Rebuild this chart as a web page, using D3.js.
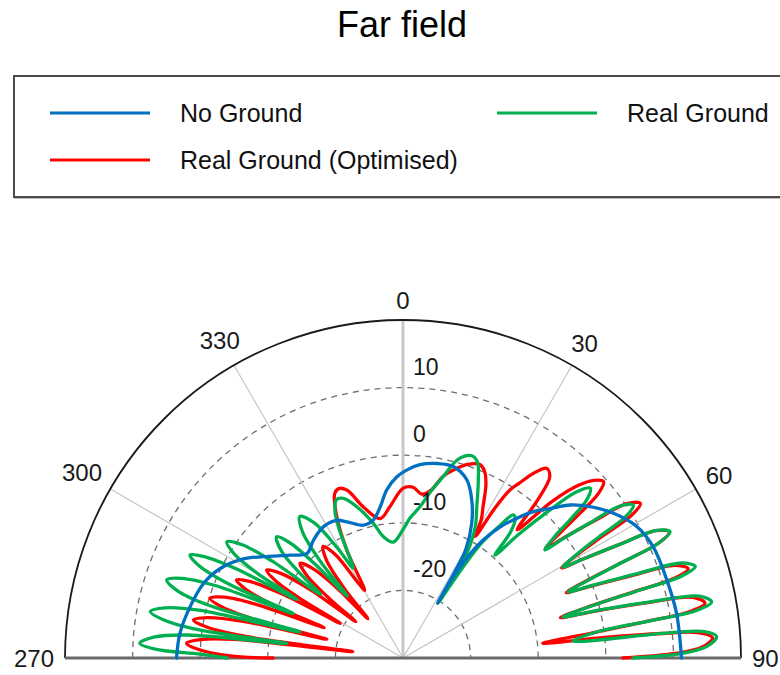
<!DOCTYPE html>
<html>
<head>
<meta charset="utf-8">
<script src="https://cdn.jsdelivr.net/npm/d3@7"></script>
<style>
  body { margin: 0; background: #fff; }
  svg { display: block; font-family: "Liberation Sans", Arial, sans-serif; }
</style>
</head>
<body>
<div id="chart"></div>
<script>
// chart values: [angle in degrees (0 = up, clockwise), gain in dB]
const chartTitle = "Far field";
const seriesNames = ["No Ground", "Real Ground", "Real Ground (Optimised)"];
const seriesColors = ["#0070c0", "#00b050", "#ff0000"];
const angleTicks = [270, 300, 330, 0, 30, 60, 90];
const spokeAngles = [-60, -30, 30, 60];
const dbTicks = [-20, -10, 0, 10];
const dbDomain = [-30, 20];

const noGround = [
  [90, 11.2], [80.7, 11.0], [73.5, 10.7], [66.0, 10.5], [60.7, 9.7], [55.5, 7.8], [51.0, 5.6],
  [47.5, 3.5], [44.5, 1.0], [41.7, -1.0], [39.1, -3.4], [36.5, -5.9], [34.2, -8.9], [32.6, -12.3],
  [31.8, -16.5], [32.2, -20.4], [31.0, -15.0], [30.0, -11.4], [27.0, -7.6], [23.5, -4.5], [19.7, -2.0],
  [14.7, -0.7], [9.8, -0.8], [5.0, -1.3], [1.1, -2.2], [-2.0, -3.2], [-5.5, -5.0], [-8.6, -7.4],
  [-12.1, -9.1], [-16.6, -9.5], [-22.4, -8.2], [-25.7, -7.4], [-31.3, -7.3], [-37.2, -8.1], [-42.6, -9.0],
  [-47.7, -7.4], [-54.0, -4.5], [-58.2, -2.2], [-63.9, 0.1], [-69.5, 1.5], [-76.5, 2.4], [-83.7, 3.2], [-90, 3.5]
];

const realGround = [
  [90, 4.0], [89.0, 11.5], [87.8, 15.0], [86.1, 16.5], [85.0, 14.8], [84.6, 9.5], [84.3, -4.7],
  [82.2, -0.6], [81.4, 7.5], [80.8, 14.0], [79.7, 16.4], [78.2, 14.8], [77.2, 7.5], [76.3, 0.0], [75.6, -5.6],
  [74.5, -0.5], [74.0, 6.5], [73.6, 13.0], [72.6, 15.3], [71.2, 13.6], [70.2, 7.0], [69.0, 0.0], [68.2, -3.7],
  [67.0, 1.0], [66.4, 5.5], [65.8, 11.5], [64.7, 13.7], [63.3, 12.0], [62.3, 6.0], [61.2, 0.5], [60.4, -2.8],
  [59.0, 0.5], [58.3, 4.0], [57.6, 9.0], [56.4, 10.9], [55.0, 9.2], [54.1, 4.0], [53.3, -0.5], [52.7, -3.6],
  [51.2, -1.0], [50.3, 2.5], [49.2, 6.0], [47.8, 7.4], [46.2, 5.5], [44.7, 0.5], [43.1, -5.0], [41.8, -9.6],
  [40.5, -5.5], [38.8, -3.5], [37.6, -3.3], [36.3, -5.5], [34.5, -9.0], [33.4, -14.0], [32.6, -20.4],
  [32.0, -15.0], [31.2, -11.5], [28.8, -7.8], [26.0, -5.1], [23.0, -1.5], [20.8, 1.0], [18.8, 1.6],
  [15.5, 0.5], [12.5, -2.5], [9.5, -5.0], [6.4, -7.5], [3.0, -9.2], [0.0, -11.0], [-4.8, -12.8],
  [-9.2, -11.8], [-12.4, -9.6], [-17.0, -6.6], [-20.5, -4.8], [-22.8, -4.6], [-24.8, -6.0], [-26.2, -8.3],
  [-27.5, -12.0], [-29.0, -14.8],
  [-30.8, -11.1], [-33.3, -6.1], [-36.1, -4.1], [-38.5, -6.1], [-40.5, -11.1], [-42.0, -17.7],
  [-43.1, -11.1], [-44.5, -6.1], [-46.2, -4.1], [-48.7, -6.1], [-50.9, -11.1], [-52.4, -14.6],
  [-53.5, -5.8], [-54.9, -0.8], [-56.6, 1.2], [-58.4, -0.8], [-60.0, -5.8], [-61.1, -12.1],
  [-61.9, -2.0], [-63.0, 3.0], [-64.2, 5.0], [-65.7, 3.0], [-67.0, -2.0], [-68.0, -12.5],
  [-68.9, -0.2], [-70.2, 4.8], [-71.7, 6.8], [-73.4, 4.8], [-74.8, -0.2], [-75.8, -14.3],
  [-76.8, 1.0], [-78.1, 6.0], [-79.6, 8.0], [-80.9, 6.0], [-82.1, 1.0], [-82.9, -12.7],
  [-83.9, 2.0], [-85.2, 7.0], [-86.8, 9.0], [-88.0, 6.5], [-88.9, 0.0], [-90, -4.0]
];

const realGroundOpt = [
  [90, 2.5], [89.0, 10.5], [87.9, 14.3], [86.3, 15.9], [85.1, 13.8], [84.6, 8.5], [84.2, 0.0], [84.0, -9.2],
  [82.4, -1.5], [81.5, 6.0], [80.8, 13.0], [79.7, 15.4], [78.2, 13.8], [77.2, 6.8], [76.3, -0.5], [75.6, -6.0],
  [74.5, -1.0], [74.0, 5.5], [73.6, 12.0], [72.6, 14.2], [71.2, 12.5], [70.2, 6.0], [69.0, -0.5], [68.2, -4.0],
  [67.0, 0.5], [66.4, 5.3], [65.8, 11.4], [64.7, 13.6], [63.3, 11.9], [62.3, 6.0], [61.2, 0.3], [60.4, -3.0],
  [59.2, 0.5], [58.6, 4.5], [58.0, 10.0], [56.9, 11.9], [55.4, 10.2], [54.4, 5.0], [53.3, 0.0], [52.5, -3.5],
  [51.4, 0.0], [50.7, 4.0], [49.9, 7.8], [48.7, 9.5], [47.1, 8.6], [45.5, 6.5], [43.6, 2.0], [41.7, -4.6],
  [40.5, 0.5], [39.0, 4.5], [37.1, 5.2], [35.2, 3.4], [33.6, 1.0], [32.5, -0.5], [31.5, -4.0], [30.7, -9.1],
  [29.5, -6.5], [27.9, -4.7], [25.5, -1.5], [23.5, 0.2], [21.5, 0.8], [18.5, 0.2], [15.5, -1.0],
  [12.4, -2.5], [9.5, -4.8], [6.5, -5.6], [3.4, -4.7], [0.0, -4.9], [-4.9, -7.5], [-9.3, -9.1],
  [-14.7, -6.9], [-18.5, -3.8], [-20.8, -3.2], [-22.6, -3.7], [-25.1, -6.9], [-27.5, -12.0], [-29.5, -18.5],
  [-31.0, -16.7], [-33.2, -11.7], [-35.6, -9.7], [-38.1, -11.7], [-40.2, -16.7], [-41.8, -22.2],
  [-43.2, -16.3], [-45.2, -11.3], [-47.4, -9.3], [-49.4, -11.3], [-51.2, -16.3], [-52.4, -21.2],
  [-53.6, -13.0], [-55.3, -8.0], [-57.2, -6.0], [-58.8, -8.0], [-60.1, -13.0], [-61.1, -19.4],
  [-62.1, -9.8], [-63.4, -4.8], [-64.9, -2.8], [-66.5, -4.8], [-67.9, -9.8], [-68.9, -17.5],
  [-69.9, -7.1], [-71.2, -2.1], [-72.8, -0.1], [-74.2, -2.1], [-75.4, -7.1], [-76.2, -18.4],
  [-77.1, -5.5], [-78.3, -0.5], [-79.7, 1.5], [-81.0, -0.5], [-82.1, -5.5], [-82.9, -22.5],
  [-83.7, -4.9], [-84.8, 0.1], [-86.1, 2.1], [-87.3, 0.8], [-89.3, -4.4], [-90, -10.8]
];

const width = 780, height = 675;
const cx = 403, cy = 658, R = 338;

const svg = d3.select("#chart")
  .append("svg")
  .attr("width", width)
  .attr("height", height);

// title
svg.append("text")
  .attr("x", 402)
  .attr("y", 37)
  .attr("text-anchor", "middle")
  .attr("font-size", 36)
  .attr("fill", "#000")
  .text(chartTitle);

// legend box (runs off the right edge like the original)
const legend = svg.append("g").attr("transform", "translate(14,76)");
legend.append("rect")
  .attr("x", 1).attr("y", 1)
  .attr("width", 820).attr("height", 121)
  .attr("fill", "none")
  .attr("stroke", "#bbb")
  .attr("stroke-width", 2);
legend.append("rect")
  .attr("width", 820).attr("height", 121)
  .attr("fill", "#fff")
  .attr("stroke", "#4a4a4a")
  .attr("stroke-width", 2);

// slot for each series: [x of line start, y]
const legendSlots = [[36, 37], [483, 37], [36, 84]];
seriesNames.forEach((name, i) => {
  const [lx, ly] = legendSlots[i];
  legend.append("line")
    .attr("x1", lx).attr("x2", lx + 100)
    .attr("y1", ly).attr("y2", ly)
    .attr("stroke", seriesColors[i])
    .attr("stroke-width", 3);
  legend.append("text")
    .attr("x", lx + 130)
    .attr("y", ly + 9)
    .attr("font-size", 25)
    .attr("fill", "#111")
    .text(name);
});

// polar scales
const rScale = d3.scaleLinear().domain(dbDomain).range([0, R]).clamp(true);
const aScale = d3.scaleLinear().domain([-180, 180]).range([-Math.PI, Math.PI]);

const polar = svg.append("g").attr("transform", "translate(" + cx + "," + cy + ")");

function halfCircle(r) {
  const p = d3.path();
  p.moveTo(-r, 0);
  p.arc(0, 0, r, Math.PI, 2 * Math.PI);
  return p.toString();
}

// dashed rings
polar.selectAll(".ring")
  .data(dbTicks)
  .join("path")
  .attr("class", "ring")
  .attr("d", d => halfCircle(rScale(d)))
  .attr("fill", "none")
  .attr("stroke", "#6e6e6e")
  .attr("stroke-width", 1.3)
  .attr("stroke-dasharray", "6,5");

// spokes
polar.selectAll(".spoke")
  .data(spokeAngles)
  .join("line")
  .attr("class", "spoke")
  .attr("x1", 0).attr("y1", 0)
  .attr("x2", d => R * Math.sin(aScale(d)))
  .attr("y2", d => -R * Math.cos(aScale(d)))
  .attr("stroke", "#c4c4c4")
  .attr("stroke-width", 1.2);

polar.append("line")
  .attr("x1", 0).attr("y1", 0)
  .attr("x2", 0).attr("y2", -R)
  .attr("stroke", "#c8c8c8")
  .attr("stroke-width", 3);

// outer rim and base line
polar.append("path")
  .attr("d", halfCircle(R))
  .attr("fill", "none")
  .attr("stroke", "#1a1a1a")
  .attr("stroke-width", 1.8);

polar.append("line")
  .attr("x1", -R).attr("x2", R)
  .attr("y1", 0).attr("y2", 0)
  .attr("stroke", "#6a6a6a")
  .attr("stroke-width", 3);

// pattern curves
const radial = d3.lineRadial()
  .angle(d => aScale(d[0]))
  .radius(d => rScale(d[1]))
  .curve(d3.curveCatmullRom.alpha(0.5));

const drawOrder = [[realGroundOpt, 2], [realGround, 1], [noGround, 0]];
drawOrder.forEach(([data, i]) => {
  polar.append("path")
    .datum(data)
    .attr("d", radial)
    .attr("fill", "none")
    .attr("stroke", seriesColors[i])
    .attr("stroke-width", 3.3)
    .attr("stroke-linejoin", "round")
    .attr("stroke-linecap", "round");
});

// radial tick labels
polar.selectAll(".rlabel")
  .data(dbTicks)
  .join("text")
  .attr("class", "rlabel")
  .attr("x", 10)
  .attr("y", d => -rScale(d) - 13)
  .attr("font-size", 23)
  .attr("fill", "#1a1a1a")
  .text(d => d);

// angle labels, pushed out so the text box clears the rim
angleTicks.forEach(t => {
  const a = aScale(t > 180 ? t - 360 : t);
  const txt = polar.append("text")
    .attr("font-size", 24)
    .attr("fill", "#1a1a1a")
    .attr("text-anchor", "middle")
    .attr("dominant-baseline", "central")
    .text(t);
  const bb = txt.node().getBBox();
  const off = R + 11 + Math.abs(Math.sin(a)) * bb.width / 2 + Math.abs(Math.cos(a)) * 24 * 0.36;
  txt.attr("x", off * Math.sin(a)).attr("y", -off * Math.cos(a));
});
</script>
</body>
</html>
